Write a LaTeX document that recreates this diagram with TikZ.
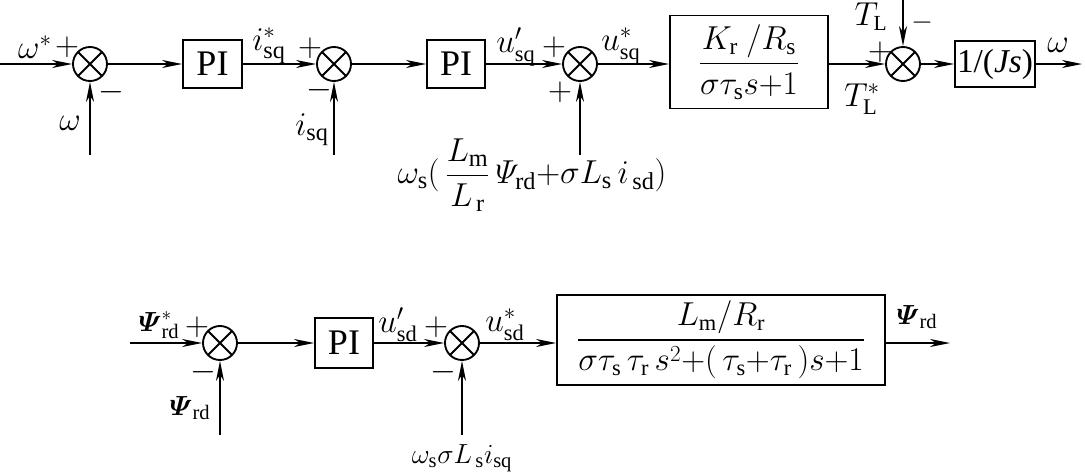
\documentclass[tikz,border=0pt]{standalone}
\usepackage{amsmath}
\usepackage{fontspec}
\setmainfont{Liberation Serif}
\usetikzlibrary{arrows.meta}
\tikzset{
  ln/.style={line width=1.4pt},
  arr/.style={ln,-{Stealth[length=15pt,width=6pt,inset=4.5pt]}},
  blk/.style={draw,ln,inner sep=0pt,font=\fontsize{27}{30}\selectfont},
  frc/.style={font=\fontsize{25}{30}\selectfont},
  sumc/.style={draw,ln,circle,minimum size=25.5pt,inner sep=0pt,
    path picture={\draw[ln] (path picture bounding box.north west)--(path picture bounding box.south east)
      (path picture bounding box.south west)--(path picture bounding box.north east);}},
  lab/.style={inner sep=0pt,font=\fontsize{24}{28}\selectfont},
  sgn/.style={inner sep=0pt,font=\fontsize{24}{26}\selectfont},
}
\begin{document}
\begin{tikzpicture}[x=0.75pt,y=-0.75pt]
\useasboundingbox (0,0) rectangle (1085,472);
% top row
\coordinate (in1) at (0,64);
\node[sumc] (s1) at (90,64) {};
\node[blk,minimum width=59*0.75pt,minimum height=48*0.75pt] (pi1) at (212.5,64) {PI};
\node[sumc] (s2) at (334,64) {};
\node[blk,minimum width=58*0.75pt,minimum height=48*0.75pt] (pi2) at (456,64) {PI};
\node[sumc] (s3) at (580,64) {};
\node[blk,frc,minimum width=158*0.75pt,minimum height=93*0.75pt] (g1) at (749,62) {$\dfrac{K_\mathrm{r}\ /R_\mathrm{s}}{\sigma\tau_\mathrm{s}s{+}1}$};
\node[sumc] (s4) at (903,64) {};
\node[blk,font=\fontsize{25}{28}\selectfont,minimum width=80*0.75pt,minimum height=46*0.75pt] (js) at (995,64) {1/(\textit{Js})};
\coordinate (out1) at (1082,64);
\coordinate (f1) at (90,155);
\coordinate (f2) at (334,155);
\coordinate (f3) at (580,155);
\coordinate (f4) at (903,0);
\draw[arr] (in1) -- (s1);
\draw[arr] (s1) -- (pi1);
\draw[arr] (pi1) -- (s2);
\draw[arr] (s2) -- (pi2);
\draw[arr] (pi2) -- (s3);
\draw[arr] (s3) -- (g1.west |- s3);
\draw[arr] (g1.east |- s4) -- (s4);
\draw[arr] (s4) -- (js);
\draw[arr] (js) -- (out1);
\draw[arr] (f1) -- (s1);
\draw[arr] (f2) -- (s2);
\draw[arr] (f3) -- (s3);
\draw[arr] (f4) -- (s4);
\node[lab] (l1) at (35,47) {$\omega^*$};
\node[sgn] (p1) at (67,47) {$+$};
\node[sgn] (m1) at (111,92) {$-$};
\node[lab] (l2) at (70,123) {$\omega$};
\node[lab,font=\fontsize{26}{28}\selectfont] (l3) at (269,46) {$i^*_\mathrm{sq}$};
\node[sgn] (p2) at (310,48) {$+$};
\node[sgn] (m2) at (319,90) {$-$};
\node[lab,font=\fontsize{26}{28}\selectfont] (l4) at (312,130) {$i_\mathrm{sq}$};
\node[lab] (l5) at (516,47) {$u'_\mathrm{sq}$};
\node[sgn] (p3) at (554,47) {$+$};
\node[lab] (p4) at (560,92) {$+$};
\node[lab,font=\fontsize{26}{30}\selectfont] (l6) at (532,175) {$\omega_\mathrm{s}(\,\dfrac{L_\mathrm{m}}{L_{\,\mathrm{r}}}\,\varPsi_\mathrm{rd}{+}\sigma L_\mathrm{s}\,i_\mathrm{\,sd})$};
\node[lab] (l7) at (621,46) {$u^*_\mathrm{sq}$};
\node[lab,font=\fontsize{23}{26}\selectfont] (l8) at (871,17) {$T_\mathrm{L}$};
\node[sgn,font=\fontsize{20}{22}\selectfont] (m3) at (922,23) {$-$};
\node[sgn] (p5) at (880,52) {$+$};
\node[lab] (l9) at (862,99) {$T^*_\mathrm{L}$};
\node[lab] (l10) at (1058,45) {$\omega$};
% bottom row
\coordinate (in2) at (130,343);
\node[sumc] (s5) at (220,343) {};
\node[blk,minimum width=58*0.75pt,minimum height=50*0.75pt] (pi3) at (344,343) {PI};
\node[sumc] (s6) at (462,343) {};
\node[blk,font=\fontsize{24}{28}\selectfont,minimum width=328*0.75pt,minimum height=90*0.75pt] (g2) at (721,340) {$\dfrac{L_\mathrm{m}/R_\mathrm{r}}{\sigma\tau_\mathrm{s}\,\tau_\mathrm{r}\,s^2{+}(\,\tau_\mathrm{s}{+}\tau_\mathrm{r}\,)s{+}1}$};
\coordinate (out2) at (950,343);
\coordinate (f5) at (220,435);
\coordinate (f6) at (462,435);
\draw[arr] (in2) -- (s5);
\draw[arr] (s5) -- (pi3);
\draw[arr] (pi3) -- (s6);
\draw[arr] (s6) -- (g2.west |- s6);
\draw[arr] (g2.east |- s6) -- (out2);
\draw[arr] (f5) -- (s5);
\draw[arr] (f6) -- (s6);
\node[lab,font=\fontsize{22}{26}\selectfont] (l11) at (159,325) {$\boldsymbol{\varPsi}^*_\mathrm{rd}$};
\node[sgn] (p6) at (197,327) {$+$};
\node[sgn] (m4) at (203,372) {$-$};
\node[lab,font=\fontsize{22}{26}\selectfont] (l12) at (190,408) {$\boldsymbol{\varPsi}_\mathrm{rd}$};
\node[lab] (l13) at (398,325) {$u'_\mathrm{sd}$};
\node[sgn] (p7) at (436,327) {$+$};
\node[sgn] (m5) at (443,372) {$-$};
\node[lab,font=\fontsize{22}{26}\selectfont] (l14) at (462,458) {$\omega_\mathrm{s}\sigma L_{\,\mathrm{s}}i_\mathrm{sq}$};
\node[lab] (l15) at (505,325) {$u^*_\mathrm{sd}$};
\node[lab,font=\fontsize{22}{26}\selectfont] (l16) at (917,317) {$\boldsymbol{\varPsi}_\mathrm{rd}$};
\end{tikzpicture}
\end{document}
